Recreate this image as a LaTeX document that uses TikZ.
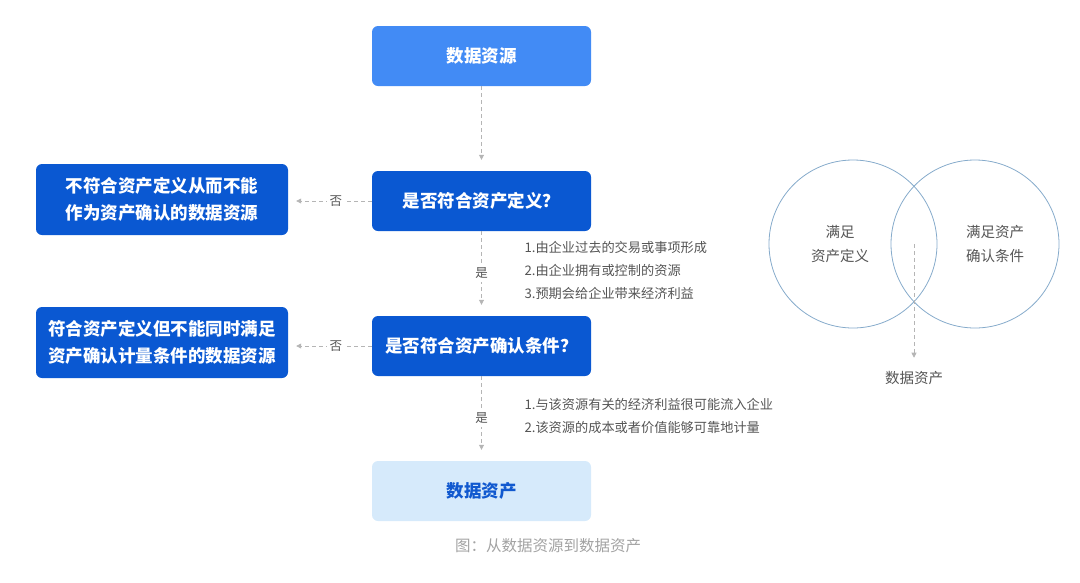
\documentclass[tikz,border=0pt]{standalone}
\usepackage{fontspec}
\setmainfont{Noto Sans CJK SC}
\usetikzlibrary{arrows.meta}
\definecolor{lanqian}{HTML}{428BF5}
\definecolor{lanshen}{HTML}{0A58D2}
\definecolor{landan}{HTML}{D6EAFB}
\definecolor{lanzi}{HTML}{1159CF}
\definecolor{huixian}{HTML}{B5B5B5}
\definecolor{huizi}{HTML}{555555}
\definecolor{quanxian}{HTML}{86ABCB}

\begin{document}
\begin{tikzpicture}[x=1pt,y=-1pt,
    hezi/.style={rounded corners=6pt,minimum width=219pt,minimum height=60pt,
      align=center,font=\fontsize{17.5}{27}\selectfont\bfseries,text=white},
    zuohezi/.style={hezi,minimum width=252pt,minimum height=71pt,fill=lanshen},
    xuxian/.style={huixian,dashed,dash pattern=on 4pt off 3pt,line width=0.8pt,
      -{Triangle[length=5pt,width=5pt]}},
    biaoqian/.style={fill=white,text=huizi,font=\fontsize{12.5}{14}\selectfont,inner sep=3pt},
    tiaomu/.style={text=huizi,font=\fontsize{13.2}{23}\selectfont,align=left,anchor=west},
    quan/.style={quanxian,line width=0.8pt}]
  \useasboundingbox (0,0) rectangle (1080,582);
  % flow
  \node[hezi,fill=lanqian] (ziyuan) at (481.5,56) {数据资源};
  \node[hezi,fill=lanshen] (dingyi) at (481.5,201) {是否符合资产定义？};
  \node[hezi,fill=lanshen] (queren) at (481.5,346) {是否符合资产确认条件？};
  \node[hezi,fill=landan,text=lanzi] (zichan) at (481.5,491) {数据资产};
  \node[zuohezi] (bufu) at (162,199.5) {不符合资产定义从而不能\\作为资产确认的数据资源};
  \node[zuohezi] (fuhe) at (162,342.5) {符合资产定义但不能同时满足\\资产确认计量条件的数据资源};
  \draw[xuxian,shorten >=11pt] (ziyuan) -- (dingyi);
  \draw[xuxian,shorten >=11pt] (dingyi) -- node[biaoqian] {是} (queren);
  \draw[xuxian,shorten >=11pt] (queren) -- node[biaoqian] {是} (zichan);
  \draw[xuxian,shorten >=8pt] (dingyi) -- node[biaoqian,pos=0.43] {否} (bufu.east |- dingyi);
  \draw[xuxian,shorten >=8pt] (queren) -- node[biaoqian,pos=0.43] {否} (fuhe.east |- queren);
  \node[tiaomu] (tiaojian1) at (521,270) {1.由企业过去的交易或事项形成\\2.由企业拥有或控制的资源\\3.预期会给企业带来经济利益};
  \node[tiaomu] (tiaojian2) at (521,415.5) {1.与该资源有关的经济利益很可能流入企业\\2.该资源的成本或者价值能够可靠地计量};
  % venn
  \draw[quan] (853,244) circle (84);
  \draw[quan] (975,244) circle (84);
  \node[text=huizi,align=center,font=\fontsize{14.5}{24}\selectfont] (mandingyi) at (840,244) {满足\\资产定义};
  \node[text=huizi,align=center,font=\fontsize{14.5}{24}\selectfont] (manqueren) at (995,244) {满足资产\\确认条件};
  \coordinate (jiaoji) at (914,244);
  \node[text=huizi,font=\fontsize{14.5}{16}\selectfont] (shuju) at (914,378) {数据资产};
  \draw[xuxian,shorten >=10pt] (jiaoji) -- (shuju);
  % caption
  \node[text=huixian!90!black,font=\fontsize{15.5}{18}\selectfont] (tuming) at (548,546) {图：从数据资源到数据资产};
\end{tikzpicture}
\end{document}
